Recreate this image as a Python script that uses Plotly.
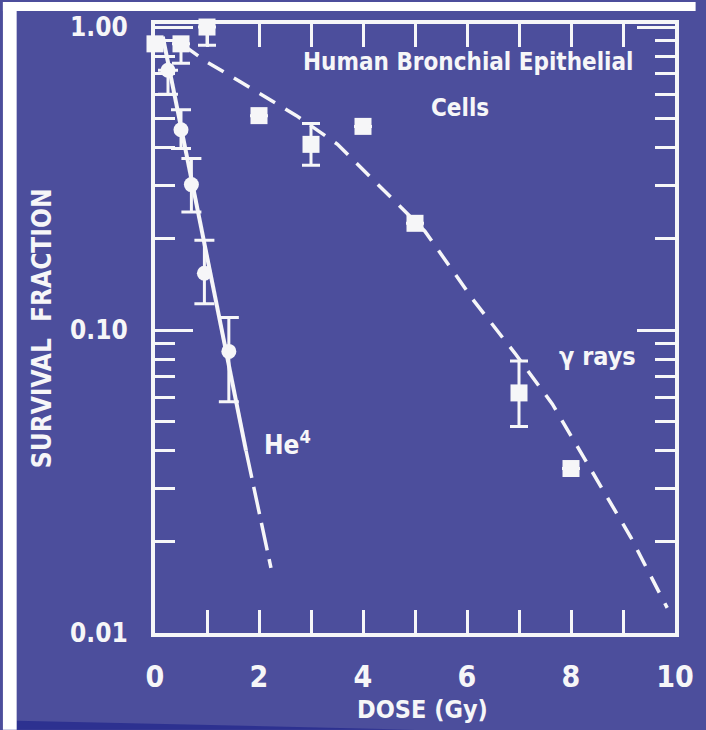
import plotly.graph_objects as go

# ---- data ----
gamma_dose = [0, 0.5, 1, 2, 3, 4, 5, 7, 8]
gamma_sf = [0.88, 0.88, 1.0, 0.51, 0.41, 0.47, 0.225, 0.062, 0.0349]
gamma_err_plus = [0, 0, 0, 0, 0.07, 0, 0, 0.017, 0]
gamma_err_minus = [0, 0.12, 0.13, 0, 0.06, 0, 0, 0.014, 0]

gamma_fit_dose = [0.55, 0.98, 1.64, 2.23, 2.72, 3.51, 5.19, 6.13, 6.94, 7.64, 8.40, 9.15, 9.85]
gamma_fit_sf = [0.87, 0.77, 0.66, 0.575, 0.51, 0.41, 0.212, 0.125, 0.083, 0.057, 0.0344, 0.0207, 0.0121]

he_dose = [0.25, 0.5, 0.7, 0.95, 1.42]
he_sf = [0.72, 0.458, 0.302, 0.154, 0.085]
he_err_plus = [0, 0.075, 0.066, 0.044, 0.025]
he_err_minus = [0.12, 0.061, 0.057, 0.032, 0.027]

he_fit_dose = [0.15, 1.75]
he_fit_sf = [0.93, 0.040]
he_ext_dose = [1.75, 2.23]
he_ext_sf = [0.040, 0.0164]

x_ticks = [0, 2, 4, 6, 8, 10]
y_ticks = [0.01, 0.1, 1.0]
y_ticktext = ["0.01", "0.10", "1.00"]
y_minor = [m * d for d in (0.01, 0.1) for m in range(2, 10)]

BG = "#4c4e9c"
FG = "#f6f6f8"
FONT = "Liberation Sans Narrow, DejaVu Sans Condensed, Arial Narrow, sans-serif"

# layout geometry (pixels)
W, H = 706, 730
L, R, T, B = 155, 21, 22, 97
PW, PH = W - L - R, H - T - B


def xp(px):
    return (px - L) / PW


def yp(py):
    return (H - B - py) / PH


fig = go.Figure()

fig.add_trace(go.Scatter(
    x=gamma_fit_dose, y=gamma_fit_sf, mode="lines",
    line=dict(color=FG, width=3.5, dash="18px,12px"), showlegend=False))
fig.add_trace(go.Scatter(
    x=he_fit_dose, y=he_fit_sf, mode="lines",
    line=dict(color=FG, width=4), showlegend=False))
fig.add_trace(go.Scatter(
    x=he_ext_dose, y=he_ext_sf, mode="lines",
    line=dict(color=FG, width=3.5, dash="28px,9px"), showlegend=False))

fig.add_trace(go.Scatter(
    x=gamma_dose, y=gamma_sf, mode="markers",
    marker=dict(symbol="square", size=17, color=FG),
    error_y=dict(type="data", symmetric=False, array=gamma_err_plus,
                 arrayminus=gamma_err_minus, color=FG, thickness=3, width=9),
    showlegend=False, cliponaxis=False))
fig.add_trace(go.Scatter(
    x=he_dose, y=he_sf, mode="markers",
    marker=dict(symbol="circle", size=15, color=FG),
    error_y=dict(type="data", symmetric=False, array=he_err_plus,
                 arrayminus=he_err_minus, color=FG, thickness=3, width=10),
    showlegend=False, cliponaxis=False))

fig.update_xaxes(
    range=[0, 10], tickvals=x_ticks, ticks="inside", ticklen=23, tickwidth=3,
    tickcolor=FG, showline=True, linewidth=4, linecolor=FG, mirror="ticks",
    showgrid=False, zeroline=False,
    tickfont=dict(family=FONT, size=30, color=FG, weight=700),
    ticklabelstandoff=14,
    minor=dict(dtick=1, ticks="inside", ticklen=23, tickwidth=3, tickcolor=FG,
               showgrid=False))
fig.update_yaxes(
    type="log", range=[-2, 0.01], tickvals=y_ticks, ticktext=y_ticktext,
    ticks="inside", ticklen=38, tickwidth=3, tickcolor=FG, showline=True,
    linewidth=4, linecolor=FG, mirror="ticks", showgrid=False, zeroline=False,
    tickfont=dict(family=FONT, size=26, color=FG, weight=700),
    ticklabelstandoff=18,
    minor=dict(tickvals=y_minor, ticks="inside", ticklen=20, tickwidth=3,
               tickcolor=FG, showgrid=False))

annfont = dict(family=FONT, color=FG, weight=700)
annotations = [
    dict(text="Human Bronchial Epithelial", x=xp(474), y=yp(60), size=24),
    dict(text="Cells", x=xp(466), y=yp(106), size=24),
    dict(text="γ rays", x=xp(606), y=yp(356), size=25),
    dict(text="He<sup>4</sup>", x=xp(290), y=yp(442), size=26),
    dict(text="DOSE (Gy)", x=xp(428), y=yp(710), size=25),
]
for a in annotations:
    fig.add_annotation(
        text=a["text"], x=a["x"], y=a["y"], xref="paper", yref="paper",
        showarrow=False, xanchor="center", yanchor="middle",
        font=dict(size=a["size"], **annfont))
fig.add_annotation(
    text="SURVIVAL  FRACTION", x=xp(40), y=yp(327), xref="paper", yref="paper",
    showarrow=False, textangle=-90, xanchor="center", yanchor="middle",
    font=dict(size=26, **annfont))

# slide edges
shapes = [
    dict(type="rect", x0=xp(0), x1=xp(W), y0=yp(0), y1=yp(9),
         fillcolor="white", line=dict(width=0), layer="above"),
    dict(type="rect", x0=xp(0), x1=xp(14), y0=yp(0), y1=yp(H),
         fillcolor="white", line=dict(width=0), layer="above"),
    dict(type="path",
         path=f"M {xp(14)},{yp(721)} L {xp(420)},{yp(730)} L {xp(14)},{yp(730)} Z",
         fillcolor="#2d3190", line=dict(width=0), layer="below"),
]
for s in shapes:
    fig.add_shape(xref="paper", yref="paper", **s)

fig.update_layout(
    width=W, height=H, margin=dict(l=L, r=R, t=T, b=B, pad=0),
    paper_bgcolor=BG, plot_bgcolor=BG, showlegend=False)

fig.write_html(
    "out.html",
    config={"displayModeBar": False},
    post_script=(
        "document.body.style.margin='0';"
        "document.body.style.overflow='hidden';"
        f"document.body.style.background='{BG}';"
        f"document.documentElement.style.background='{BG}';"
    ))
